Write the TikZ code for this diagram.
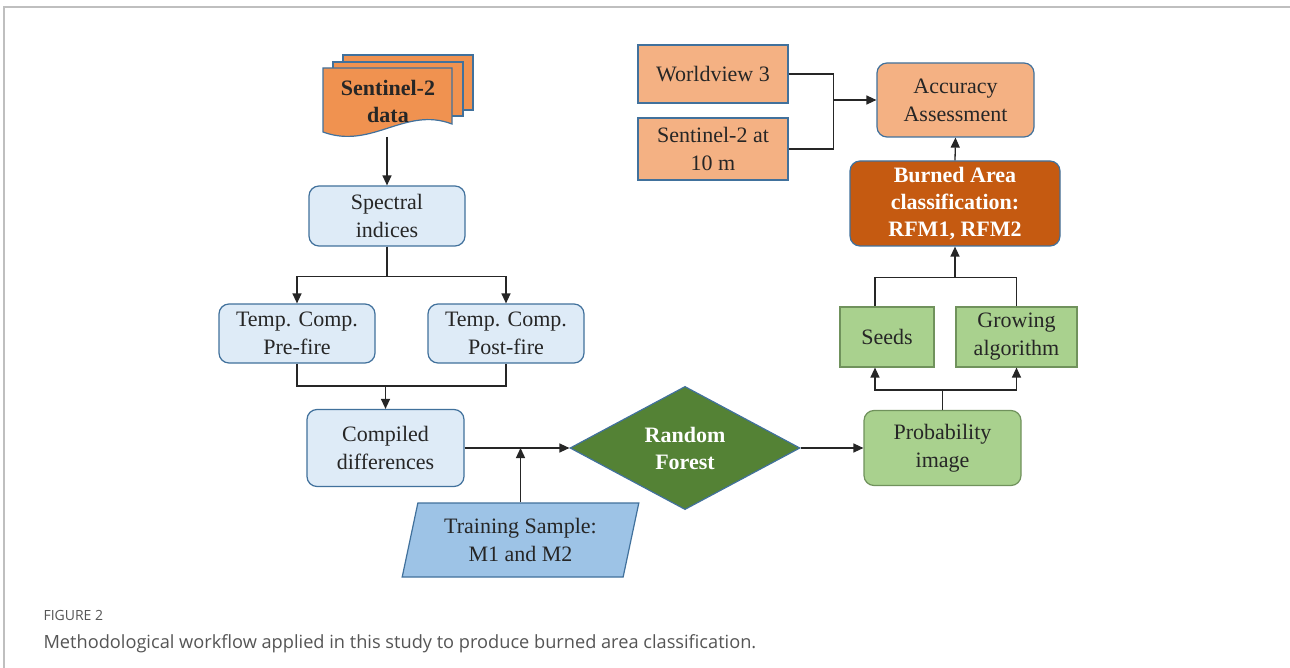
\documentclass[tikz,border=0pt]{standalone}
\usepackage{fontspec}
\setmainfont{Liberation Serif}
\newfontfamily\capfont{Open Sans}
\usetikzlibrary{shapes.geometric,arrows.meta}

\definecolor{sentorange}{RGB}{240,146,80}
\definecolor{paleorange}{RGB}{244,177,131}
\definecolor{burnbrown}{RGB}{197,90,17}
\definecolor{paleblue}{RGB}{222,235,247}
\definecolor{skyblue}{RGB}{157,195,230}
\definecolor{forestgreen}{RGB}{84,130,53}
\definecolor{lightgreen}{RGB}{169,209,142}
\definecolor{edgeblue}{RGB}{65,113,156}
\definecolor{edgegreen}{RGB}{112,146,92}
\definecolor{capgray}{RGB}{85,85,85}

\tikzset{
	box/.style={draw=edgeblue, line width=1.2pt, align=center, inner sep=0pt, text=black!85,
		font=\fontsize{22}{28}\selectfont},
	roundbox/.style={box, rounded corners=10pt},
	boldtext/.style={text=white, font=\fontsize{22}{27}\selectfont\bfseries},
	flow/.style={line width=1.3pt, black!85, -{Triangle[length=10pt,width=9pt]}},
	link/.style={line width=1.3pt, black!85},
}

\begin{document}
\begin{tikzpicture}[x=1pt,y=-1pt]
	\useasboundingbox[fill=white] (0,0) rectangle (1290,668);

	% frame of the figure
	\draw[black!25, line width=1.5pt] (4,668) -- (4,7) -- (1290,7);

	% Sentinel-2 data: stack of documents
	\filldraw[fill=sentorange, draw=edgeblue, line width=1.2pt] (343,55) rectangle (473,110);
	\filldraw[fill=sentorange, draw=edgeblue, line width=1.2pt] (333,62) rectangle (463,116);
	\filldraw[fill=sentorange, draw=edgeblue, line width=1.2pt] (323,68) -- (452,68) -- (452,124)
		.. controls (405,106) and (372,150) .. (323,132) -- cycle;
	\node[boldtext, text=black!85, align=center] (sent) at (388,101) {Sentinel-2\\data};
	\coordinate (sentfoot) at (387,137);

	% left column
	\node[roundbox, fill=paleblue, minimum width=156pt, minimum height=60pt] (spec) at (387,216) {Spectral\\indices};
	\node[roundbox, fill=paleblue, minimum width=156pt, minimum height=59pt] (pre) at (297,333.5) {Temp. Comp.\\Pre-fire};
	\node[roundbox, fill=paleblue, minimum width=156pt, minimum height=59pt] (post) at (506,333.5) {Temp. Comp.\\Post-fire};
	\node[roundbox, fill=paleblue, minimum width=157pt, minimum height=77pt] (comp) at (385.5,448) {Compiled\\differences};
	\node[box, trapezium, trapezium left angle=75, trapezium right angle=105, trapezium stretches=true,
		fill=skyblue, minimum width=237pt, minimum height=74pt] (train) at (520.5,540) {Training Sample:\\M1 and M2};

	% classifier
	\node[diamond, draw=edgeblue, line width=1.2pt, fill=forestgreen, inner sep=0pt, align=center, boldtext,
		minimum width=230pt, minimum height=110pt] (rf) at (685,448) {Random\\Forest};

	% right column
	\node[roundbox, draw=edgegreen, fill=lightgreen, minimum width=157pt, minimum height=75pt] (prob) at (942.5,448) {Probability\\image};
	\node[box, draw=edgegreen, fill=lightgreen, minimum width=94pt, minimum height=60pt] (seeds) at (887,337) {Seeds};
	\node[box, draw=edgegreen, fill=lightgreen, minimum width=121pt, minimum height=60pt] (grow) at (1016.5,337) {Growing\\algorithm};
	\node[roundbox, fill=burnbrown, boldtext, minimum width=210pt, minimum height=85pt] (burn) at (955,203.5) {Burned Area\\classification:\\RFM1, RFM2};
	\node[roundbox, fill=paleorange, minimum width=157pt, minimum height=74pt] (acc) at (955.5,100) {Accuracy\\Assessment};
	\node[box, fill=paleorange, minimum width=150pt, minimum height=58pt] (wv) at (713,74) {Worldview 3};
	\node[box, fill=paleorange, minimum width=150pt, minimum height=62pt] (s10) at (713,149) {Sentinel-2 at\\10 m};

	% connectors
	\draw[flow] (sentfoot) -- (spec.north);
	\draw[flow] (spec.south) -- ++(0,30) -| (pre.north);
	\draw[flow] (spec.south) -- ++(0,30) -| (post.north);
	\draw[link] (pre.south) |- ([yshift=23pt]comp.north) -| (post.south);
	\draw[flow] ([yshift=23pt]comp.north) -- (comp.north);
	\draw[flow] (comp.east) -- (rf.west);
	\draw[flow] (train.north) -- (train.north |- comp.east);
	\draw[flow] (rf.east) -- (prob.west);
	\draw[flow] (prob.north) -- ++(0,-20) -| ([xshift=-12pt]seeds.south);
	\draw[flow] (prob.north) -- ++(0,-20) -| (grow.south);
	\draw[link] ([xshift=-12pt]seeds.north) |- ([yshift=-31pt]burn.south) -| (grow.north);
	\draw[flow] ([yshift=-31pt]burn.south) -- (burn.south);
	\draw[flow] (burn.north) -- (acc.south);
	\draw[link] (wv.east) -- ++(45,0) |- (s10.east);
	\draw[flow] ([xshift=45pt]wv.east |- acc.west) -- (acc.west);

	% caption
	\node[anchor=base west, text=capgray, font=\capfont\fontsize{14}{16}\selectfont] (figno) at (40,620) {FIGURE 2};
	\node[anchor=base west, text=capgray, font=\capfont\fontsize{18.2}{22}\selectfont] (figcap) at (40,648)
		{Methodological workflow applied in this study to produce burned area classification.};
\end{tikzpicture}
\end{document}
